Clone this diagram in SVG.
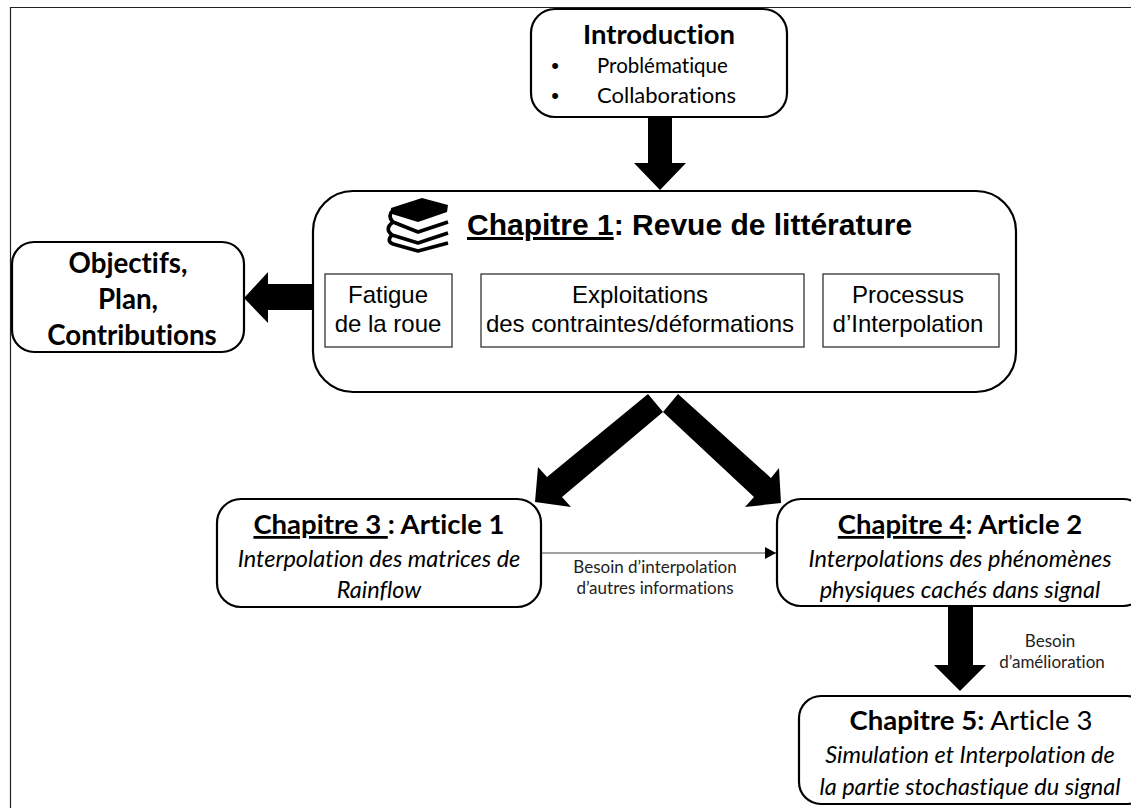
<svg xmlns="http://www.w3.org/2000/svg" width="1131" height="808" viewBox="0 0 1131 808">
<style>
.box{fill:#fff;stroke:#000;stroke-width:2.2}
.sub{fill:#fff;stroke:#222;stroke-width:1.2}
.arrow{fill:#000}
.bk{fill:none;stroke:#000;stroke-width:3.600;stroke-linejoin:round}
text{font-family:Lato,"Liberation Sans",sans-serif;fill:#000;text-anchor:middle;font-variant-ligatures:none}
.h{font-size:27.500px}
.b{font-weight:bold}
.i{font-style:italic;font-size:23.500px}
.a{font-family:"Liberation Sans",Arial,sans-serif;font-size:24px}
.n{font-size:17px;fill:#222}
.dot{font-family:"Liberation Sans",Arial,sans-serif;font-size:22px}
</style>
<defs><marker id="tip" markerWidth="12" markerHeight="12" refX="11" refY="6" orient="auto" markerUnits="userSpaceOnUse"><path d="M0,0L11,6L0,12z" fill="#000"/></marker></defs>
<rect width="1131" height="808" fill="#fff"/>
<path d="M10.500,808V7.500H1131" fill="none" stroke="#222" stroke-width="1.200"/>
<g id="connectors">
<polygon class="arrow" points="648,117 672,117 672,163 686,163 660,190 634,163 648,163"/>
<polygon class="arrow" points="313,284 268,284 268,272 244,298 268,323 268,310 313,310"/>
<polygon class="arrow" points="648,394 663,412 562,497 571,507 535,502 538,467 547,477"/>
<polygon class="arrow" points="678,394 663,412 754,497 745,507 781,503 779,468 771,478"/>
<polygon class="arrow" points="948,606 973,606 973,665 986,665 960,691 934,665 948,665"/>
<line x1="541" y1="553" x2="776" y2="553" stroke="#444" stroke-width="1.200" marker-end="url(#tip)"/>
<text class="n" x="655" y="573">Besoin d’interpolation</text>
<text class="n" x="655" y="594">d’autres informations</text>
<text class="n" x="1050" y="647">Besoin</text>
<text class="n" x="1052" y="668">d’amélioration</text>
</g>
<g id="intro">
<rect class="box" x="531" y="9" width="256" height="108" rx="24"/>
<text class="h b" x="659" y="44">Introduction</text>
<text class="dot" x="555" y="73">•</text><text x="597" y="73" style="font-size:20.500px;text-anchor:start">Problématique</text>
<text class="dot" x="555" y="103">•</text><text x="597" y="103" style="font-size:22px;text-anchor:start">Collaborations</text>
</g>
<g id="chapitre1">
<rect class="box" x="313" y="191" width="703" height="201" rx="40"/>
<polygon fill="#000" points="391,208 422,198 448,205 447,212 418,222 392,214"/>
<path class="bk" d="M393 210Q387 216 393 222L418 232L448 222M393 222Q384 229 392 235L418 243L448 233M392 235Q386 241 393 244L418 251L448 243"/>
<text x="467" y="235" style="font-family:'Liberation Sans',Arial,sans-serif;font-size:30px;font-weight:bold;text-anchor:start"><tspan text-decoration="underline">Chapitre 1</tspan>: Revue de littérature</text>
<g id="fatigue"><rect class="sub" x="325" y="274" width="127" height="73"/>
<text class="a" x="388" y="303">Fatigue</text><text class="a" x="388" y="332">de la roue</text></g>
<g id="exploitations"><rect class="sub" x="481" y="274" width="323" height="73"/>
<text class="a" x="640" y="303">Exploitations</text><text class="a" x="640" y="332">des contraintes/déformations</text></g>
<g id="processus"><rect class="sub" x="823" y="274" width="176" height="73"/>
<text class="a" x="908" y="303">Processus</text><text class="a" x="908" y="332">d’Interpolation</text></g>
</g>
<g id="objectifs">
<rect class="box" x="12" y="242" width="232" height="110" rx="22"/>
<text class="h b" x="128" y="273" style="font-size:27.700px">Objectifs,</text>
<text class="h b" x="128" y="309" style="font-size:27.700px">Plan,</text>
<text class="h b" x="132" y="345" style="font-size:27.700px">Contributions</text>
</g>
<g id="chapitre3">
<rect class="box" x="217" y="499" width="324" height="108" rx="24"/>
<text class="h b" x="379" y="534"><tspan text-decoration="underline">Chapitre 3 </tspan>: Article 1</text>
<text class="i" x="379" y="567">Interpolation des matrices de</text>
<text class="i" x="379" y="598">Rainflow</text>
</g>
<g id="chapitre4">
<rect class="box" x="777" y="499" width="370" height="107" rx="24"/>
<text class="h b" x="960" y="534"><tspan text-decoration="underline">Chapitre 4</tspan>: Article 2</text>
<text class="i" x="960" y="567">Interpolations des phénomènes</text>
<text class="i" x="960" y="598">physiques cachés dans signal</text>
</g>
<g id="chapitre5">
<rect class="box" x="799" y="696" width="350" height="108" rx="22"/>
<text class="h" x="971" y="730"><tspan class="b">Chapitre 5:</tspan> Article 3</text>
<text class="i" x="970" y="763">Simulation et Interpolation de</text>
<text class="i" x="970" y="795">la partie stochastique du signal</text>
</g>
</svg>
